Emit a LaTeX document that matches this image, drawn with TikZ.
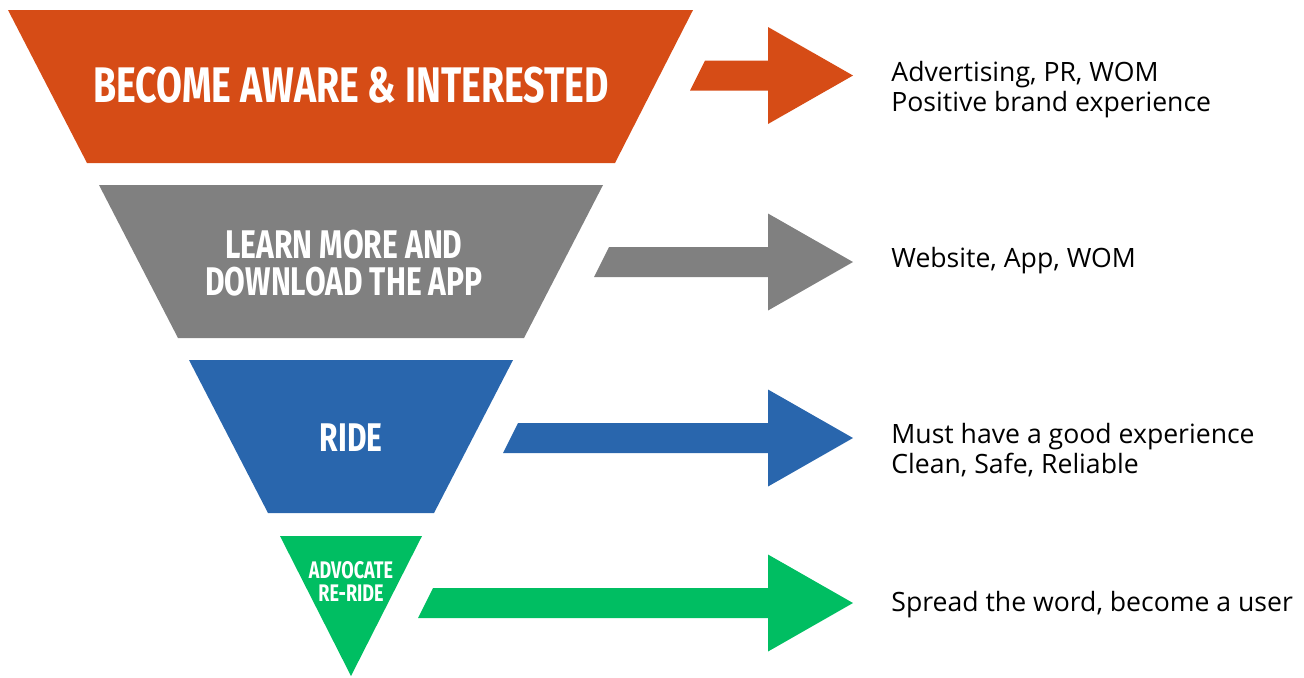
\documentclass[tikz,border=0pt]{standalone}
\usepackage{fontspec}
\setmainfont{Open Sans}
\newfontfamily\headfont{Fira Sans}[FakeStretch=0.75]

\definecolor{stageorange}{HTML}{D64C16}
\definecolor{stagegray}{HTML}{808080}
\definecolor{stageblue}{HTML}{2966AD}
\definecolor{stagegreen}{HTML}{00BE62}

\begin{document}
\begin{tikzpicture}[
  x=0.5pt, y=-0.5pt,
  stagetext/.style={text=white, align=center, font=\headfont\bfseries},
  note/.style={anchor=west, align=left, font=\fontsize{13.3}{15}\selectfont, inner sep=0pt}
]
\useasboundingbox (0,0) rectangle (1304,677);

% funnel stages
\fill[stageorange] (8,10) -- (693,10) -- (615,163) -- (87,163) -- cycle;
\fill[stagegray] (99,185) -- (603,185) -- (524,338) -- (178,338) -- cycle;
\fill[stageblue] (189,360) -- (513,360) -- (434,513) -- (268,513) -- cycle;
\fill[stagegreen] (280,536) -- (422,536) -- (351,676) -- cycle;

% arrows to the notes
\fill[stageorange] (705,60.5) -- (768,60.5) -- (768,27) -- (853,75.5) -- (768,124) -- (768,90.5) -- (690,90.5) -- cycle;
\fill[stagegray] (609,247) -- (768,247) -- (768,213.5) -- (853,262) -- (768,310.5) -- (768,277) -- (594,277) -- cycle;
\fill[stageblue] (518,423) -- (768,423) -- (768,389.5) -- (853,438) -- (768,486.5) -- (768,453) -- (503,453) -- cycle;
\fill[stagegreen] (433,588) -- (768,588) -- (768,554.5) -- (853,603) -- (768,651.5) -- (768,618) -- (418,618) -- cycle;

\node[stagetext, font=\headfont\bfseries\fontsize{25}{25}\selectfont] (aware) at (351,85) {BECOME AWARE \& INTERESTED};
\node[stagetext, font=\headfont\bfseries\fontsize{20}{18.5}\selectfont] (learn) at (344,263) {LEARN MORE AND\\DOWNLOAD THE APP};
\node[stagetext, font=\headfont\bfseries\fontsize{20}{18}\selectfont] (ride) at (351,438) {RIDE};
\node[stagetext, font=\headfont\bfseries\fontsize{12}{11.5}\selectfont] (advocate) at (351,581) {ADVOCATE\\RE-RIDE};

\node[note] (awarenote) at (891,89.5) {Advertising, PR, WOM\\Positive brand experience};
\node[note] (learnnote) at (891,261) {Website, App, WOM};
\node[note] (ridenote) at (891,450.5) {Must have a good experience\\Clean, Safe, Reliable};
\node[note] (advocatenote) at (891,605) {Spread the word, become a user};
\end{tikzpicture}
\end{document}
